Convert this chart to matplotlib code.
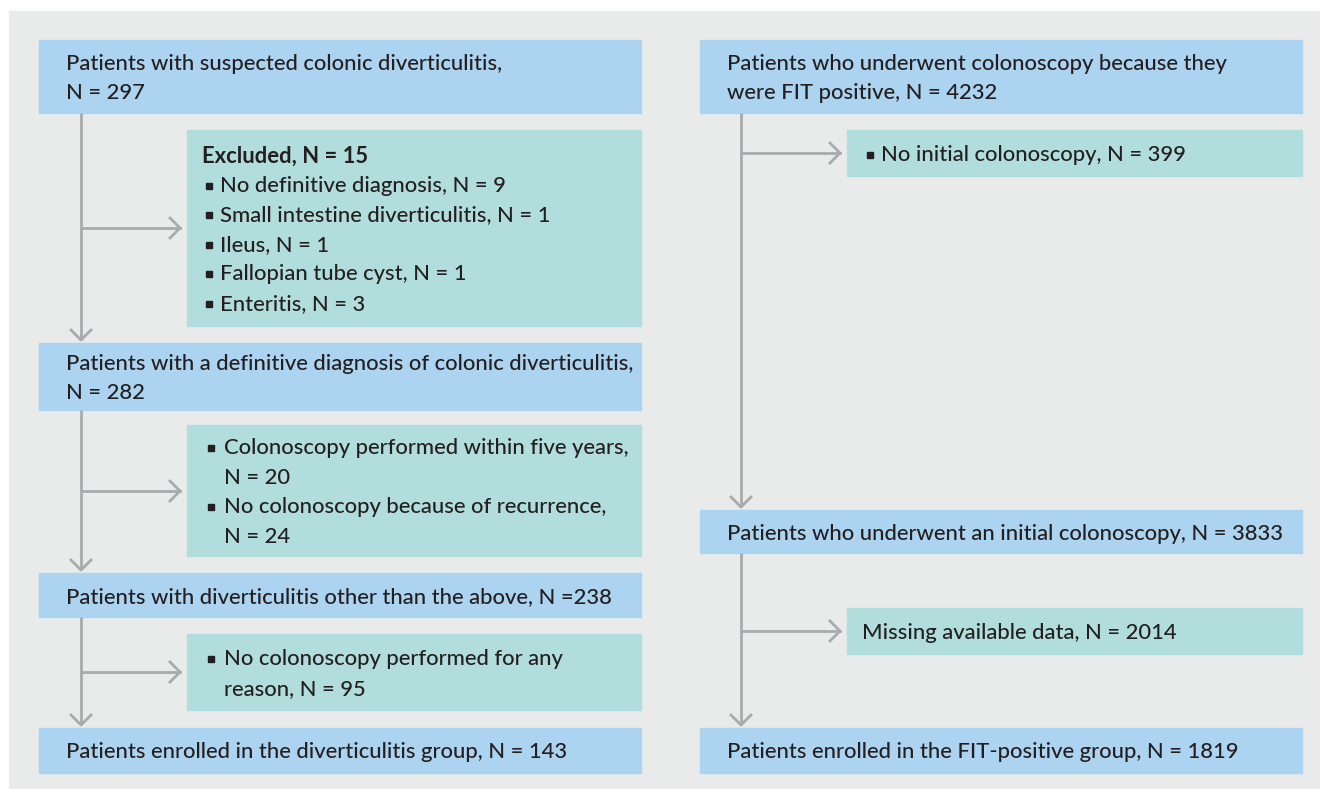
import matplotlib
matplotlib.use("Agg")
import matplotlib.pyplot as plt
from matplotlib.patches import Rectangle

# ---- flowchart content ----
left_steps = [
    "Patients with suspected colonic diverticulitis,\nN = 297",
    "Patients with a definitive diagnosis of colonic diverticulitis,\nN = 282",
    "Patients with diverticulitis other than the above, N =238",
    "Patients enrolled in the diverticulitis group, N = 143",
]
left_excl_title = "Excluded, N = 15"
left_excl_1 = [
    "No definitive diagnosis, N = 9",
    "Small intestine diverticulitis, N = 1",
    "Ileus, N = 1",
    "Fallopian tube cyst, N = 1",
    "Enteritis, N = 3",
]
left_excl_2 = [
    "Colonoscopy performed within five years,\nN = 20",
    "No colonoscopy because of recurrence,\nN = 24",
]
left_excl_3 = ["No colonoscopy performed for any\nreason, N = 95"]

right_steps = [
    "Patients who underwent colonoscopy because they\nwere FIT positive, N = 4232",
    "Patients who underwent an initial colonoscopy, N = 3833",
    "Patients enrolled in the FIT-positive group, N = 1819",
]
right_excl_1 = ["No initial colonoscopy, N = 399"]
right_excl_2 = "Missing available data, N = 2014"

BG = "#e9ebeb"
BLUE = "#acd3ef"
TEAL = "#b1dedc"
GREY = "#a9aaac"
INK = "#231f20"
FONT = ["Lato", "DejaVu Sans"]
FS = 15.8
LINE = 29.5

fig = plt.figure(figsize=(13.2, 7.89), dpi=100)
ax = fig.add_axes([0, 0, 1, 1])
ax.set_xlim(0, 1320)
ax.set_ylim(789, 0)
ax.axis("off")
ax.add_patch(Rectangle((9, 11), 1311, 778, color=BG, zorder=0))


def box(x0, x1, y0, y1, color):
    ax.add_patch(Rectangle((x0, y0), x1 - x0, y1 - y0, color=color, zorder=1))


def lines_at(yc, n):
    return [yc + 2 + (i - (n - 1) / 2) * LINE for i in range(n)]


def put(x, y, s, bold=False):
    ax.text(x, y, s, fontsize=FS, family=FONT, color=INK, va="center",
            ha="left", fontweight="bold" if bold else "medium", zorder=3)


def step(x0, x1, y0, y1, label, tx):
    box(x0, x1, y0, y1, BLUE)
    rows = label.split("\n")
    for y, r in zip(lines_at((y0 + y1) / 2, len(rows)), rows):
        put(tx, y, r)


def bullets(x0, x1, y0, y1, items, bx, tx, title=None):
    box(x0, x1, y0, y1, TEAL)
    rows = []
    if title:
        rows.append(("title", title))
    for it in items:
        for j, part in enumerate(it.split("\n")):
            rows.append(("b" if j == 0 else "c", part))
    for y, (kind, r) in zip(lines_at((y0 + y1) / 2, len(rows)), rows):
        if kind == "title":
            put(bx - 4, y, r, bold=True)
        else:
            if kind == "b":
                ax.add_patch(Rectangle((bx, y - 3), 6, 6, color=INK, zorder=3))
            put(tx, y, r)


def down(x, y0, y1):
    ax.plot([x, x], [y0, y1], color=GREY, lw=2, solid_capstyle="butt", zorder=2)
    ax.plot([x - 10, x, x + 10], [y1 - 10, y1, y1 - 10], color=GREY, lw=2, zorder=2)


def side(x, y, x1):
    ax.plot([x, x1], [y, y], color=GREY, lw=2, zorder=2)
    ax.plot([x1 - 10, x1, x1 - 10], [y - 10, y, y + 10], color=GREY, lw=2, zorder=2)


# ---- left column ----
lx, lx1, ex, lx_line = 39, 641, 187, 81
left_y = [(40, 113), (343, 410), (573, 617), (728, 773)]
for (y0, y1), s in zip(left_y, left_steps):
    step(lx, lx1, y0, y1, s, 66)

bullets(ex, lx1, 130, 326, left_excl_1, 206, 220, title=left_excl_title)
bullets(ex, lx1, 425, 556, left_excl_2, 208, 224)
bullets(ex, lx1, 634, 710, left_excl_3, 208, 224)

for (a, b), hy in zip(zip(left_y[:-1], left_y[1:]), [228, 491, 672]):
    down(lx_line, a[1], b[0] - 3)
    side(lx_line, hy, 180)

# ---- right column ----
rx, rx1, rex, rx_line = 700, 1302, 847, 741
right_y = [(40, 113), (510, 553), (728, 773)]
for (y0, y1), s in zip(right_y, right_steps):
    step(rx, rx1, y0, y1, s, 727)

bullets(rex, rx1, 130, 176, right_excl_1, 867, 881)
box(rex, rx1, 608, 654, TEAL)
put(862, 633, right_excl_2)

for (a, b), hy in zip(zip(right_y[:-1], right_y[1:]), [153, 631]):
    down(rx_line, a[1], b[0] - 3)
    side(rx_line, hy, 840)

fig.savefig("out.png", dpi=100)
